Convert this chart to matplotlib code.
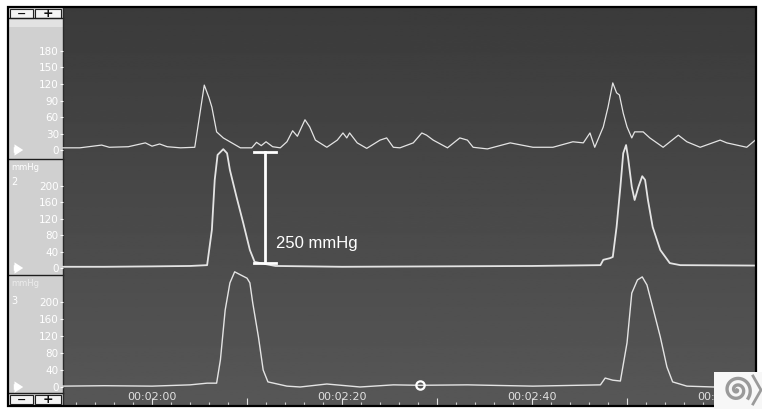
import numpy as np
import matplotlib.pyplot as plt
from matplotlib.patches import Rectangle
from matplotlib.ticker import MultipleLocator, FuncFormatter

W, H = 762, 409

t_top = [110.6, 112.4, 114.7, 115.5, 117.5, 119.3, 120.0, 120.8, 121.6, 123.0, 124.5, 125.5,
         126.0, 126.3, 126.8, 127.5, 128.5, 129.3, 130.5, 131.0, 131.5, 132.0, 132.7, 133.5,
         134.2, 134.8, 135.3, 136.1, 136.6, 137.2, 138.4, 139.5, 140.1, 140.5, 140.8, 141.6,
         142.6, 144.0, 144.7, 145.4, 146.1, 147.5, 148.4, 148.9, 149.6, 151.1, 152.4, 153.2,
         153.8, 155.3, 157.7, 160.1, 162.2, 164.3, 165.4, 166.1, 166.6, 167.5, 168.0, 168.5,
         168.9, 169.2, 169.6, 170.0, 170.5, 170.8, 171.7, 172.4, 173.8, 175.4, 176.3, 177.7,
         179.8, 180.5, 182.6, 183.5]
p_top = [4, 4, 9, 5, 6, 13, 7, 11, 6, 4, 5, 118,
         95, 78, 33, 22, 12, 4, 4, 14, 8, 15, 6, 4,
         15, 35, 25, 55, 42, 18, 5, 18, 31, 22, 31, 13,
         3, 18, 22, 5, 4, 13, 31, 27, 18, 4, 22, 18,
         5, 2, 13, 5, 5, 15, 13, 31, 5, 42, 78, 122,
         104, 100, 67, 42, 22, 33, 33, 22, 5, 27, 15, 5,
         18, 13, 5, 18]

t_mid = [110.6, 115.0, 120.0, 124.0, 125.8, 126.3, 126.6, 126.9, 127.5, 127.9, 128.2, 128.9,
         129.6, 130.3, 130.8, 131.4, 133.0, 140.0, 150.0, 160.0, 167.2, 167.5, 168.2, 168.5,
         168.9, 169.3, 169.6, 169.9, 170.1, 170.5, 170.8, 171.2, 171.6, 171.9, 172.2, 172.7,
         173.5, 174.5, 175.6, 183.5]
p_mid = [3, 3, 4, 5, 7, 93, 215, 276, 290, 280, 239, 173,
         110, 44, 15, 12, 5, 3, 4, 5, 7, 20, 24, 27,
         100, 198, 280, 300, 271, 198, 166, 198, 224, 215, 166, 100,
         44, 12, 7, 6]

t_bot = [110.6, 115.0, 120.0, 124.0, 125.8, 126.8, 127.2, 127.7, 128.2, 128.7, 129.3, 130.0,
         130.3, 130.6, 131.2, 131.7, 132.2, 134.2, 135.6, 138.4, 141.9, 145.4, 148.2, 153.2,
         160.1, 167.2, 167.7, 168.5, 169.3, 170.0, 170.5, 171.1, 171.6, 172.1, 172.7, 173.5,
         174.2, 174.8, 176.3, 179.1, 183.5]
p_bot = [2, 3, 2, 5, 9, 9, 64, 181, 245, 271, 264, 256,
         245, 198, 118, 40, 12, 2, 0, 7, 0, 5, 4, 5,
         2, 5, 21, 16, 14, 104, 221, 252, 259, 240, 188, 118,
         47, 12, 2, 0, 3]

top_ticks = [0, 30, 60, 90, 120, 150, 180]
mmhg_ticks = [0, 40, 80, 120, 160, 200]
marker_t, marker_p = 148.2, 4
bar_t, bar_lo, bar_hi = 131.9, 12, 283
bar_label = '250 mmHg'

t_min, t_max = 110.63, 183.47
trace_col = '#e4e4e4'


def box(x0, y0, x1, y1):
    # pixel box (origin top-left) -> figure fraction rect
    return [x0 / W, 1 - y1 / H, (x1 - x0) / W, (y1 - y0) / H]


fig = plt.figure(figsize=(W / 100, H / 100), dpi=100)
fig.patch.set_facecolor('white')

# background / chrome in pixel coordinates
deco = fig.add_axes([0, 0, 1, 1], zorder=0)
deco.set_xlim(0, W)
deco.set_ylim(H, 0)
deco.axis('off')
shade = np.linspace(0.23, 0.34, 200)[:, None]
deco.imshow(shade, extent=(63, 755, 405, 8), cmap='gray', vmin=0, vmax=1, aspect='auto')
deco.add_patch(Rectangle((9, 8), 54, 397, fc='#d0d0d0', ec='none'))
deco.add_patch(Rectangle((9, 18), 54, 9, fc='#e2e2e2', ec='none'))
for yy in [18, 158.5, 274.5, 393]:
    deco.plot([9, 63], [yy, yy], color='#1e1e1e', lw=1)
deco.plot([63, 63], [8, 405], color='#2a2a2a', lw=1)
for by in [9, 395]:
    deco.add_patch(Rectangle((10, by), 23, 9, fc='#f4f4f4', ec='#222222', lw=0.8))
    deco.add_patch(Rectangle((35, by), 26, 9, fc='#f4f4f4', ec='#222222', lw=0.8))
    deco.text(21.5, by + 4.5, '−', ha='center', va='center', fontsize=8,
              fontweight='bold', color='#111111')
    deco.text(48, by + 4.5, '+', ha='center', va='center', fontsize=9,
              fontweight='bold', color='#111111')
for ay in [150, 268, 387]:
    deco.annotate('', xy=(26, ay), xytext=(11, ay),
                  arrowprops=dict(arrowstyle='simple,head_width=0.9,head_length=0.7,tail_width=0.45',
                                  color='white', mutation_scale=9, lw=0))
deco.text(11, 167, 'mmHg', fontsize=6, color='white', va='center')
deco.text(11, 182, '2', fontsize=7, color='white', va='center')
deco.text(11, 284, 'mmHg', fontsize=6, color='#ececec', va='center')
deco.text(11, 301, '3', fontsize=7, color='white', va='center')


def channel(y0, y1, t, p, ylim, ticks, lw):
    ax = fig.add_axes(box(63, y0, 755, y1), zorder=2)
    ax.set_facecolor('none')
    for s in ax.spines.values():
        s.set_visible(False)
    ax.set_xlim(t_min, t_max)
    ax.set_ylim(*ylim)
    ax.set_xticks([])
    ax.set_yticks(ticks)
    ax.tick_params(axis='y', colors='white', labelsize=7.5, length=2, width=0.8, pad=1)
    ax.plot(t, p, color=trace_col, lw=lw, clip_on=False, solid_joinstyle='round')
    return ax


ax1 = channel(27, 158, t_top, p_top, (-14.5, 223.6), top_ticks, 0.9)
ax2 = channel(159, 274, t_mid, p_mid, (-14.6, 266), mmhg_ticks, 1.3)
ax3 = channel(275, 392, t_bot, p_bot, (-11.8, 263.5), mmhg_ticks, 1.0)

# 250 mmHg scale bar
cap = 1.15
ax2.plot([bar_t, bar_t], [bar_lo, bar_hi], color='white', lw=2, clip_on=False)
ax2.plot([bar_t - cap, bar_t + cap], [bar_hi, bar_hi], color='white', lw=2, clip_on=False)
ax2.plot([bar_t - cap, bar_t + cap], [bar_lo, bar_lo], color='white', lw=2, clip_on=False)
ax2.text(bar_t + 1.2, 61, bar_label, color='white', fontsize=12,
         family='Liberation Sans', va='center', ha='left')

ax3.plot([marker_t], [marker_p], 'o', mfc='none', mec='white', ms=6, mew=1.6, clip_on=False)

# time axis
tax = fig.add_axes(box(63, 392, 755, 405), zorder=3)
tax.set_facecolor('none')
for s in tax.spines.values():
    s.set_visible(False)
tax.set_xlim(t_min, t_max)
tax.set_yticks([])
tax.xaxis.set_major_locator(MultipleLocator(10))
tax.xaxis.set_minor_locator(MultipleLocator(2))
tax.xaxis.set_major_formatter(FuncFormatter(
    lambda v, pos: f'00:{int(round(v)) // 60:02d}:{int(round(v)) % 60:02d}'
    if int(round(v)) % 20 == 0 else ''))
tax.tick_params(axis='x', which='major', direction='in', length=5, width=0.8,
                colors='#e0e0e0', labelsize=8, pad=-9.5)
tax.tick_params(axis='x', which='minor', direction='in', length=2.5, width=0.8,
                colors='#d0d0d0')

# overlay: frame and logo
top = fig.add_axes([0, 0, 1, 1], zorder=5)
top.set_xlim(0, W)
top.set_ylim(H, 0)
top.axis('off')
top.patch.set_alpha(0)
top.add_patch(Rectangle((8, 7), 748, 399, fill=False, ec='black', lw=1.6))
top.add_patch(Rectangle((714, 372), 48, 37, fc='#f7f7f7', ec='none'))
th = np.linspace(0, 4.2 * np.pi, 300)
rr = 1.05 * th
top.plot(737 + rr * np.cos(th), 390 + rr * np.sin(th), color='#9a9a9a', lw=2.4)
top.plot([753, 761, 753], [376, 390, 404], color='#9a9a9a', lw=2)

fig.savefig('out.png', dpi=100)
